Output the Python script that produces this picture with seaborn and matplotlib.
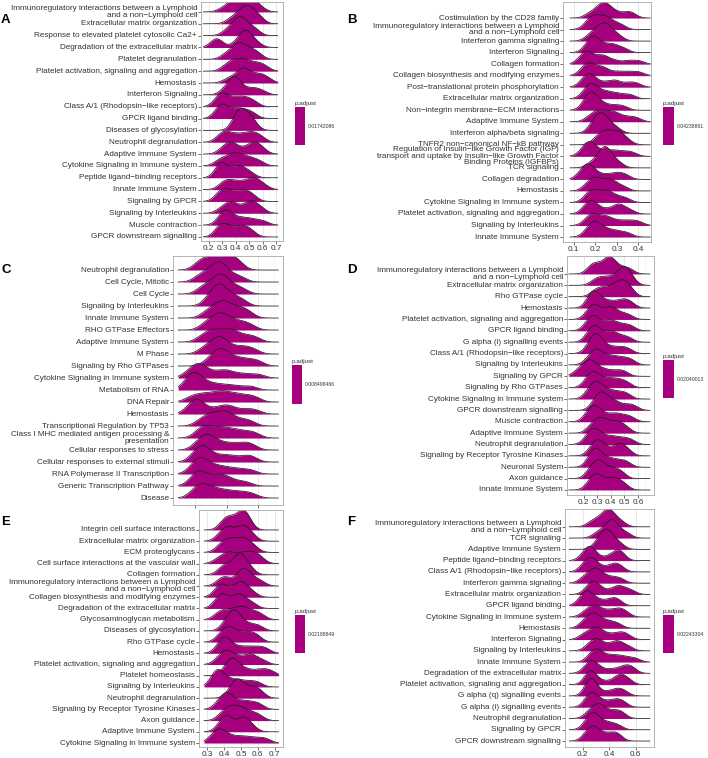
import numpy as np
import matplotlib
matplotlib.use("Agg")
import matplotlib.pyplot as plt
import matplotlib.transforms as mtransforms
from matplotlib.colors import ListedColormap, Normalize
import seaborn as sns

sns.set_theme(style="white")
plt.rcParams["font.family"] = ["Liberation Sans", "DejaVu Sans"]

FILL = "#A6007F"
LINE = "#1a1a1a"
TXT = "#333333"
W, H = 708, 758

IMMUNO = "Immunoregulatory interactions between a Lymphoid\nand a non−Lymphoid cell"

# ---------------------------------------------------------------------------
# Panel A
# ---------------------------------------------------------------------------
A_terms = [IMMUNO, "Extracellular matrix organization",
           "Response to elevated platelet cytosolic Ca2+",
           "Degradation of the extracellular matrix", "Platelet degranulation",
           "Platelet activation, signaling and aggregation", "Hemostasis",
           "Interferon Signaling", "Class A/1 (Rhodopsin−like receptors)",
           "GPCR ligand binding", "Diseases of glycosylation", "Neutrophil degranulation",
           "Adaptive Immune System", "Cytokine Signaling in Immune system",
           "Peptide ligand−binding receptors", "Innate Immune System", "Signaling by GPCR",
           "Signaling by Interleukins", "Muscle contraction", "GPCR downstream signalling"]
A_values = [
    [0.30, 0.35, 0.38, 0.39, 0.40, 0.41, 0.43, 0.47, 0.51, 0.52, 0.53, 0.55, 0.59],
    [0.36, 0.40, 0.43, 0.45, 0.47, 0.48, 0.49, 0.51, 0.53, 0.56, 0.58],
    [0.33, 0.37, 0.40, 0.42, 0.43, 0.44, 0.46, 0.48, 0.52, 0.55],
    [0.24, 0.26, 0.28, 0.40, 0.44, 0.46, 0.47, 0.48, 0.49, 0.52, 0.56],
    [0.32, 0.36, 0.39, 0.41, 0.43, 0.44, 0.46, 0.48, 0.51, 0.54, 0.57],
    [0.32, 0.36, 0.38, 0.41, 0.43, 0.46, 0.48, 0.51, 0.55, 0.58, 0.62],
    [0.34, 0.39, 0.43, 0.45, 0.46, 0.47, 0.50, 0.54, 0.57, 0.60, 0.64],
    [0.31, 0.35, 0.37, 0.38, 0.39, 0.40, 0.41, 0.43, 0.47, 0.52, 0.55, 0.60],
    [0.26, 0.28, 0.30, 0.31, 0.34, 0.38, 0.41, 0.44, 0.47, 0.50, 0.54],
    [0.26, 0.29, 0.30, 0.31, 0.35, 0.39, 0.42, 0.45, 0.49, 0.53],
    [0.39, 0.41, 0.42, 0.43, 0.44, 0.46, 0.48, 0.50, 0.51, 0.54],
    [0.28, 0.31, 0.33, 0.37, 0.41, 0.45, 0.49, 0.52, 0.55, 0.59],
    [0.30, 0.34, 0.36, 0.38, 0.42, 0.48, 0.52, 0.54, 0.56, 0.60],
    [0.27, 0.31, 0.35, 0.38, 0.40, 0.42, 0.46, 0.49, 0.53, 0.58],
    [0.27, 0.29, 0.30, 0.31, 0.37, 0.41, 0.43, 0.46, 0.51],
    [0.30, 0.33, 0.36, 0.40, 0.44, 0.48, 0.52, 0.54, 0.56, 0.61],
    [0.27, 0.30, 0.32, 0.35, 0.39, 0.43, 0.46, 0.49, 0.53],
    [0.29, 0.34, 0.36, 0.38, 0.42, 0.48, 0.50, 0.52, 0.55, 0.59],
    [0.28, 0.31, 0.32, 0.33, 0.35, 0.38, 0.42, 0.46, 0.50, 0.55, 0.61],
    [0.27, 0.29, 0.31, 0.34, 0.38, 0.42, 0.45, 0.48, 0.52],
]
A_range = (0.16, 0.712)
A_xlim = (0.144, 0.719)
A_ticks = [0.2, 0.3, 0.4, 0.5, 0.6, 0.7]
A_padj = "0.01742086"

# ---------------------------------------------------------------------------
# Panel B
# ---------------------------------------------------------------------------
B_terms = ["Costimulation by the CD28 family", IMMUNO, "Interferon gamma signaling",
           "Interferon Signaling", "Collagen formation",
           "Collagen biosynthesis and modifying enzymes",
           "Post−translational protein phosphorylation", "Extracellular matrix organization",
           "Non−integrin membrane−ECM interactions", "Adaptive Immune System",
           "Interferon alpha/beta signaling", "TNFR2 non−canonical NF−kB pathway",
           "Regulation of Insulin−like Growth Factor (IGF)\ntransport and uptake by "
           "Insulin−like Growth Factor\nBinding Proteins (IGFBPs)",
           "TCR signaling", "Collagen degradation", "Hemostasis",
           "Cytokine Signaling in Immune system",
           "Platelet activation, signaling and aggregation", "Signaling by Interleukins",
           "Innate Immune System"]
B_values = [
    [0.17, 0.20, 0.22, 0.23, 0.24, 0.25, 0.26, 0.28, 0.31, 0.35, 0.37],
    [0.16, 0.18, 0.19, 0.20, 0.22, 0.24, 0.25, 0.26, 0.29, 0.32],
    [0.17, 0.20, 0.21, 0.23, 0.24, 0.25, 0.26, 0.28, 0.31],
    [0.16, 0.18, 0.19, 0.20, 0.21, 0.24, 0.27, 0.29, 0.33],
    [0.13, 0.15, 0.16, 0.17, 0.18, 0.22, 0.23, 0.25, 0.29, 0.35, 0.40],
    [0.14, 0.16, 0.17, 0.18, 0.21, 0.23, 0.25, 0.30, 0.35, 0.40],
    [0.14, 0.16, 0.17, 0.18, 0.20, 0.24, 0.28, 0.30, 0.35, 0.39],
    [0.15, 0.17, 0.18, 0.19, 0.21, 0.24, 0.27, 0.31, 0.36],
    [0.15, 0.165, 0.175, 0.18, 0.19, 0.20, 0.22, 0.25, 0.29, 0.33],
    [0.17, 0.20, 0.21, 0.23, 0.25, 0.27, 0.29, 0.31, 0.35, 0.39],
    [0.18, 0.20, 0.21, 0.22, 0.23, 0.24, 0.25, 0.27, 0.30],
    [0.20, 0.22, 0.24, 0.25, 0.26, 0.28, 0.30, 0.31, 0.32, 0.35],
    [0.14, 0.16, 0.17, 0.18, 0.19, 0.22, 0.26, 0.29, 0.33, 0.37],
    [0.18, 0.21, 0.23, 0.24, 0.245, 0.25, 0.26, 0.28, 0.31],
    [0.13, 0.15, 0.16, 0.17, 0.18, 0.20, 0.24, 0.28, 0.31, 0.34],
    [0.16, 0.18, 0.20, 0.21, 0.23, 0.26, 0.27, 0.29, 0.33],
    [0.16, 0.18, 0.19, 0.21, 0.24, 0.25, 0.27, 0.30, 0.34],
    [0.15, 0.17, 0.18, 0.19, 0.21, 0.25, 0.29, 0.31, 0.32, 0.36],
    [0.16, 0.18, 0.19, 0.21, 0.24, 0.25, 0.28, 0.32, 0.36, 0.40],
    [0.16, 0.18, 0.19, 0.20, 0.21, 0.23, 0.25, 0.28, 0.31, 0.35],
]
B_range = (0.082, 0.455)
B_xlim = (0.064, 0.458)
B_ticks = [0.1, 0.2, 0.3, 0.4]
B_padj = "0.04238861"

# ---------------------------------------------------------------------------
# Panel C
# ---------------------------------------------------------------------------
C_terms = ["Neutrophil degranulation", "Cell Cycle, Mitotic", "Cell Cycle",
           "Signaling by Interleukins", "Innate Immune System", "RHO GTPase Effectors",
           "Adaptive Immune System", "M Phase", "Signaling by Rho GTPases",
           "Cytokine Signaling in Immune system", "Metabolism of RNA", "DNA Repair",
           "Hemostasis", "Transcriptional Regulation by TP53",
           "Class I MHC mediated antigen processing &\npresentation",
           "Cellular responses to stress", "Cellular responses to external stimuli",
           "RNA Polymerase II Transcription", "Generic Transcription Pathway", "Disease"]
C_values = [
    [0.22, 0.25, 0.28, 0.31, 0.34, 0.37, 0.40, 0.43, 0.45, 0.48],
    [0.22, 0.26, 0.29, 0.32, 0.34, 0.35, 0.36, 0.37, 0.40, 0.44, 0.49],
    [0.24, 0.28, 0.31, 0.34, 0.36, 0.37, 0.38, 0.41, 0.45, 0.50],
    [0.28, 0.31, 0.33, 0.35, 0.36, 0.37, 0.39, 0.42, 0.46, 0.50],
    [0.27, 0.31, 0.34, 0.37, 0.38, 0.40, 0.43, 0.47, 0.50, 0.54],
    [0.26, 0.30, 0.33, 0.35, 0.37, 0.39, 0.42, 0.46, 0.50, 0.55],
    [0.24, 0.28, 0.31, 0.33, 0.36, 0.40, 0.42, 0.44, 0.48, 0.53, 0.58],
    [0.25, 0.29, 0.32, 0.34, 0.36, 0.37, 0.39, 0.43, 0.48, 0.52, 0.57],
    [0.28, 0.32, 0.34, 0.36, 0.37, 0.39, 0.42, 0.46, 0.50, 0.55, 0.60],
    [0.15, 0.19, 0.21, 0.23, 0.24, 0.27, 0.32, 0.37, 0.40, 0.45, 0.52, 0.60],
    [0.14, 0.17, 0.19, 0.20, 0.21, 0.24, 0.28, 0.33, 0.39, 0.46, 0.55],
    [0.17, 0.22, 0.26, 0.30, 0.34, 0.37, 0.40, 0.44, 0.48, 0.53, 0.58],
    [0.16, 0.19, 0.21, 0.22, 0.23, 0.28, 0.34, 0.38, 0.41, 0.45, 0.52, 0.58],
    [0.23, 0.27, 0.30, 0.32, 0.35, 0.38, 0.40, 0.41, 0.45, 0.50, 0.55],
    [0.22, 0.25, 0.27, 0.30, 0.34, 0.37, 0.40, 0.44, 0.48, 0.53, 0.58],
    [0.21, 0.24, 0.27, 0.28, 0.30, 0.33, 0.37, 0.42, 0.47, 0.52, 0.56],
    [0.19, 0.22, 0.24, 0.25, 0.27, 0.30, 0.35, 0.40, 0.45, 0.52, 0.56],
    [0.18, 0.21, 0.23, 0.24, 0.26, 0.29, 0.33, 0.37, 0.42, 0.48, 0.55],
    [0.18, 0.21, 0.23, 0.24, 0.27, 0.31, 0.35, 0.37, 0.40, 0.45, 0.52],
    [0.19, 0.22, 0.24, 0.26, 0.29, 0.32, 0.36, 0.40, 0.45, 0.50, 0.56],
]
C_range = (0.095, 0.726)
C_xlim = (0.063, 0.754)
C_ticks = [0.2, 0.4, 0.6]
C_padj = "0.008498466"

# ---------------------------------------------------------------------------
# Panel D
# ---------------------------------------------------------------------------
D_terms = [IMMUNO, "Extracellular matrix organization", "Rho GTPase cycle", "Hemostasis",
           "Platelet activation, signaling and aggregation", "GPCR ligand binding",
           "G alpha (i) signalling events", "Class A/1 (Rhodopsin−like receptors)",
           "Signaling by Interleukins", "Signaling by GPCR", "Signaling by Rho GTPases",
           "Cytokine Signaling in Immune system", "GPCR downstream signalling",
           "Muscle contraction", "Adaptive Immune System", "Neutrophil degranulation",
           "Signaling by Receptor Tyrosine Kinases", "Neuronal System", "Axon guidance",
           "Innate Immune System"]
D_values = [
    [0.25, 0.27, 0.29, 0.33, 0.36, 0.38, 0.39, 0.40, 0.42, 0.45, 0.50, 0.54],
    [0.28, 0.32, 0.36, 0.40, 0.44, 0.47, 0.49, 0.50, 0.51, 0.53, 0.56],
    [0.28, 0.32, 0.36, 0.40, 0.43, 0.46, 0.48, 0.50, 0.52, 0.55],
    [0.24, 0.26, 0.27, 0.28, 0.30, 0.34, 0.38, 0.43, 0.48, 0.51, 0.55],
    [0.23, 0.26, 0.28, 0.29, 0.33, 0.38, 0.40, 0.42, 0.47, 0.53],
    [0.22, 0.25, 0.27, 0.28, 0.30, 0.35, 0.39, 0.41, 0.45, 0.50, 0.55],
    [0.23, 0.26, 0.28, 0.29, 0.31, 0.36, 0.40, 0.42, 0.47, 0.53],
    [0.23, 0.26, 0.28, 0.29, 0.30, 0.31, 0.34, 0.38, 0.43, 0.48, 0.53],
    [0.23, 0.27, 0.29, 0.30, 0.33, 0.37, 0.41, 0.45, 0.50, 0.55],
    [0.15, 0.19, 0.22, 0.24, 0.25, 0.27, 0.30, 0.34, 0.39, 0.45, 0.50],
    [0.22, 0.25, 0.27, 0.28, 0.31, 0.35, 0.39, 0.43, 0.47, 0.52],
    [0.23, 0.26, 0.28, 0.30, 0.31, 0.34, 0.38, 0.42, 0.47, 0.52],
    [0.27, 0.30, 0.32, 0.33, 0.34, 0.36, 0.40, 0.42, 0.46, 0.52, 0.57],
    [0.22, 0.25, 0.27, 0.28, 0.30, 0.33, 0.37, 0.42, 0.45, 0.50, 0.55],
    [0.25, 0.28, 0.31, 0.33, 0.35, 0.38, 0.42, 0.45, 0.47, 0.52],
    [0.22, 0.25, 0.27, 0.28, 0.30, 0.33, 0.37, 0.41, 0.45, 0.50, 0.55],
    [0.25, 0.28, 0.30, 0.31, 0.33, 0.36, 0.41, 0.45, 0.47, 0.49, 0.53],
    [0.24, 0.27, 0.28, 0.29, 0.31, 0.34, 0.38, 0.42, 0.47, 0.52],
    [0.24, 0.27, 0.30, 0.31, 0.33, 0.36, 0.40, 0.44, 0.48],
    [0.24, 0.27, 0.29, 0.30, 0.33, 0.37, 0.40, 0.43, 0.46, 0.50],
]
D_range = (0.09, 0.69)
D_xlim = (0.077, 0.719)
D_ticks = [0.2, 0.3, 0.4, 0.5, 0.6]
D_padj = "0.02040013"

# ---------------------------------------------------------------------------
# Panel E
# ---------------------------------------------------------------------------
E_terms = ["Integrin cell surface interactions", "Extracellular matrix organization",
           "ECM proteoglycans", "Cell surface interactions at the vascular wall",
           "Collagen formation", IMMUNO, "Collagen biosynthesis and modifying enzymes",
           "Degradation of the extracellular matrix", "Glycosaminoglycan metabolism",
           "Diseases of glycosylation", "Rho GTPase cycle", "Hemostasis",
           "Platelet activation, signaling and aggregation", "Platelet homeostasis",
           "Signaling by Interleukins", "Neutrophil degranulation",
           "Signaling by Receptor Tyrosine Kinases", "Axon guidance",
           "Adaptive Immune System", "Cytokine Signaling in Immune system"]
E_values = [
    [0.39, 0.41, 0.43, 0.45, 0.48, 0.50, 0.51, 0.52, 0.53, 0.55],
    [0.37, 0.40, 0.42, 0.43, 0.46, 0.49, 0.51, 0.52, 0.54, 0.57],
    [0.37, 0.40, 0.42, 0.44, 0.46, 0.49, 0.51, 0.52, 0.55, 0.58],
    [0.36, 0.40, 0.42, 0.44, 0.47, 0.50, 0.52, 0.55, 0.57, 0.59, 0.62],
    [0.38, 0.41, 0.43, 0.47, 0.48, 0.49, 0.50, 0.51, 0.53, 0.56],
    [0.37, 0.40, 0.42, 0.47, 0.50, 0.51, 0.52, 0.53, 0.55, 0.58, 0.62],
    [0.35, 0.38, 0.39, 0.41, 0.46, 0.48, 0.50, 0.51, 0.53, 0.57],
    [0.35, 0.38, 0.39, 0.40, 0.44, 0.47, 0.49, 0.50, 0.53, 0.57],
    [0.36, 0.39, 0.42, 0.45, 0.48, 0.50, 0.52, 0.55, 0.58, 0.62],
    [0.40, 0.42, 0.44, 0.45, 0.46, 0.47, 0.48, 0.50, 0.53, 0.57, 0.61],
    [0.37, 0.40, 0.42, 0.43, 0.45, 0.48, 0.51, 0.54, 0.57, 0.60],
    [0.36, 0.39, 0.40, 0.41, 0.42, 0.45, 0.49, 0.53, 0.57, 0.61, 0.65],
    [0.36, 0.39, 0.41, 0.42, 0.44, 0.47, 0.50, 0.54, 0.56, 0.58, 0.63],
    [0.40, 0.43, 0.44, 0.45, 0.46, 0.48, 0.51, 0.55, 0.60, 0.64, 0.68],
    [0.33, 0.35, 0.36, 0.37, 0.39, 0.42, 0.46, 0.50, 0.55, 0.60],
    [0.43, 0.46, 0.47, 0.48, 0.49, 0.51, 0.54, 0.57, 0.59, 0.62],
    [0.36, 0.39, 0.41, 0.42, 0.43, 0.46, 0.50, 0.53, 0.57, 0.61],
    [0.38, 0.41, 0.43, 0.45, 0.47, 0.49, 0.51, 0.54, 0.57, 0.61],
    [0.37, 0.40, 0.41, 0.42, 0.44, 0.48, 0.51, 0.52, 0.53, 0.57],
    [0.32, 0.35, 0.37, 0.38, 0.40, 0.43, 0.47, 0.51, 0.55, 0.60, 0.65],
]
E_range = (0.28, 0.724)
E_xlim = (0.254, 0.73)
E_ticks = [0.3, 0.4, 0.5, 0.6, 0.7]
E_padj = "0.02188849"

# ---------------------------------------------------------------------------
# Panel F
# ---------------------------------------------------------------------------
F_terms = [IMMUNO, "TCR signaling", "Adaptive Immune System",
           "Peptide ligand−binding receptors", "Class A/1 (Rhodopsin−like receptors)",
           "Interferon gamma signaling", "Extracellular matrix organization",
           "GPCR ligand binding", "Cytokine Signaling in Immune system", "Hemostasis",
           "Interferon Signaling", "Signaling by Interleukins", "Innate Immune System",
           "Degradation of the extracellular matrix",
           "Platelet activation, signaling and aggregation",
           "G alpha (q) signalling events", "G alpha (i) signalling events",
           "Neutrophil degranulation", "Signaling by GPCR", "GPCR downstream signalling"]
F_values = [
    [0.26, 0.30, 0.33, 0.36, 0.38, 0.39, 0.40, 0.41, 0.43, 0.46, 0.50],
    [0.30, 0.34, 0.37, 0.40, 0.41, 0.42, 0.43, 0.44, 0.46, 0.50, 0.54],
    [0.30, 0.33, 0.35, 0.37, 0.38, 0.39, 0.40, 0.42, 0.45, 0.49],
    [0.20, 0.23, 0.25, 0.26, 0.27, 0.30, 0.38, 0.44, 0.46, 0.48, 0.50],
    [0.20, 0.23, 0.25, 0.27, 0.28, 0.31, 0.37, 0.43, 0.45, 0.49],
    [0.20, 0.24, 0.27, 0.29, 0.30, 0.32, 0.35, 0.39, 0.44, 0.49],
    [0.23, 0.26, 0.28, 0.29, 0.31, 0.35, 0.42, 0.46, 0.48, 0.52, 0.57],
    [0.18, 0.21, 0.23, 0.24, 0.26, 0.29, 0.34, 0.40, 0.44, 0.47],
    [0.21, 0.25, 0.28, 0.29, 0.31, 0.35, 0.39, 0.43, 0.47, 0.49, 0.53],
    [0.20, 0.23, 0.26, 0.28, 0.29, 0.31, 0.34, 0.38, 0.42, 0.47],
    [0.20, 0.24, 0.27, 0.30, 0.31, 0.33, 0.37, 0.42, 0.47, 0.50, 0.54],
    [0.24, 0.27, 0.30, 0.31, 0.33, 0.37, 0.42, 0.45, 0.47, 0.50, 0.55],
    [0.25, 0.28, 0.30, 0.31, 0.33, 0.37, 0.41, 0.45, 0.49, 0.54, 0.60],
    [0.22, 0.25, 0.27, 0.28, 0.30, 0.35, 0.42, 0.48, 0.52, 0.55, 0.58],
    [0.23, 0.25, 0.26, 0.27, 0.29, 0.35, 0.43, 0.47, 0.49, 0.51, 0.55],
    [0.23, 0.25, 0.26, 0.265, 0.27, 0.29, 0.33, 0.40, 0.45, 0.48, 0.52],
    [0.23, 0.25, 0.27, 0.28, 0.30, 0.34, 0.39, 0.44, 0.47, 0.51],
    [0.24, 0.27, 0.30, 0.32, 0.33, 0.35, 0.39, 0.43, 0.47, 0.50],
    [0.22, 0.25, 0.27, 0.28, 0.29, 0.31, 0.34, 0.38, 0.42, 0.47],
    [0.22, 0.25, 0.27, 0.28, 0.30, 0.33, 0.37, 0.41, 0.45, 0.47],
]
F_range = (0.10, 0.707)
F_xlim = (0.068, 0.738)
F_ticks = [0.2, 0.4, 0.6]
F_padj = "0.02243304"

# ---------------------------------------------------------------------------
# Layout (pixel boxes in the 708x758 canvas)
# ---------------------------------------------------------------------------
panels = [
    dict(letter="A", terms=A_terms, values=A_values, rng=A_range, xlim=A_xlim,
         ticks=A_ticks, padj=A_padj, bw=0.042, scale=1.85, box=(201, 2, 283, 241),
         ylim=(0.66, 20.84), cbar=(295, 107, 305, 145), let_xy=(1, 20), ticklabels=True),
    dict(letter="B", terms=B_terms, values=B_values, rng=B_range, xlim=B_xlim,
         ticks=B_ticks, padj=B_padj, bw=0.026, scale=1.85, box=(563, 2, 651, 242),
         ylim=(0.57, 21.39), cbar=(663, 107, 674, 145), let_xy=(347, 20), ticklabels=True),
    dict(letter="C", terms=C_terms, values=C_values, rng=C_range, xlim=C_xlim,
         ticks=C_ticks, padj=C_padj, bw=0.042, scale=1.85, box=(173, 256, 283, 505),
         ylim=(0.42, 21.17), cbar=(292, 365, 302, 404), let_xy=(1, 270), ticklabels=False),
    dict(letter="D", terms=D_terms, values=D_values, rng=D_range, xlim=D_xlim,
         ticks=D_ticks, padj=D_padj, bw=0.04, scale=1.75, box=(567, 256, 654, 495),
         ylim=(0.56, 21.58), cbar=(663, 360, 674, 398), let_xy=(347, 270), ticklabels=True),
    dict(letter="E", terms=E_terms, values=E_values, rng=E_range, xlim=E_xlim,
         ticks=E_ticks, padj=E_padj, bw=0.033, scale=1.9, box=(199, 510, 283, 747),
         ylim=(0.645, 21.78), cbar=(295, 615, 305, 653), let_xy=(1, 522), ticklabels=True),
    dict(letter="F", terms=F_terms, values=F_values, rng=F_range, xlim=F_xlim,
         ticks=F_ticks, padj=F_padj, bw=0.04, scale=1.8, box=(565, 509, 654, 747),
         ylim=(0.47, 21.58), cbar=(663, 615, 674, 653), let_xy=(347, 522), ticklabels=True),
]


def fig_rect(x0, y0, x1, y1):
    return [x0 / W, 1 - y1 / H, (x1 - x0) / W, (y1 - y0) / H]


def draw_panel(fig, p):
    ax = fig.add_axes(fig_rect(*p["box"]))
    ax.set_facecolor("white")
    terms, values, rng = p["terms"], p["values"], p["rng"]
    n = len(terms)
    bases = np.arange(n, 0, -1)
    drawn = []
    # top ridge first, so lower ridges overlap the ones above (as ggridges does)
    for k, vals in enumerate(values):
        bw = p["bw"] / np.std(vals, ddof=1)
        z = 2 + k * 0.02
        sns.kdeplot(x=vals, ax=ax, fill=True, color=FILL, alpha=1, linewidth=0,
                    bw_method=bw, cut=10, clip=rng, zorder=z)
        f_art = ax.collections[-1]
        sns.kdeplot(x=vals, ax=ax, color=LINE, linewidth=0.55,
                    bw_method=bw, cut=10, clip=rng, zorder=z + 0.01)
        l_art = ax.lines[-1]
        drawn.append((bases[k], f_art, l_art))
    # shared height scaling, then lift each density onto its baseline
    peak = max(l.get_ydata().max() for _, _, l in drawn)
    s = p["scale"] / peak
    for base, f_art, l_art in drawn:
        tr = mtransforms.Affine2D().scale(1, s).translate(0, base) + ax.transData
        f_art.set_transform(tr)
        l_art.set_transform(tr)

    ax.set_xlim(*p["xlim"])
    ax.set_ylim(*p["ylim"])
    ticks = p["ticks"]
    step = ticks[1] - ticks[0]
    minor = [t + step / 2 for t in [ticks[0] - step] + ticks]
    ax.set_xticks(ticks)
    ax.set_xticks(minor, minor=True)
    ax.set_xticklabels([f"{t:g}" for t in ticks] if p["ticklabels"] else [])
    ax.set_yticks(bases)
    ax.set_yticklabels(terms, va="center", linespacing=0.9)
    ax.grid(which="major", axis="x", color="#E3E3E3", lw=0.6)
    ax.grid(which="minor", axis="x", color="#F0F0F0", lw=0.4)
    ax.set_axisbelow(True)
    ax.set_xlabel("")
    ax.set_ylabel("")
    ax.tick_params(axis="both", which="major", length=2, width=0.5, color=TXT,
                   labelcolor=TXT, labelsize=5.85, pad=0.8, left=True, bottom=True)
    ax.tick_params(axis="x", which="minor", length=0)
    for sp in ax.spines.values():
        sp.set_color("#A8A8A8")
        sp.set_linewidth(0.6)
        sp.set_zorder(3)

    # single-colour p.adjust legend
    cax = fig.add_axes(fig_rect(*p["cbar"]))
    v = float(p["padj"])
    sm = plt.cm.ScalarMappable(cmap=ListedColormap([FILL]), norm=Normalize(v * 0.5, v * 1.5))
    cb = fig.colorbar(sm, cax=cax, ticks=[v])
    cb.outline.set_visible(False)
    cb.ax.set_yticklabels([p["padj"]])
    cb.ax.tick_params(direction="in", length=1.6, width=0.4, color="white",
                      labelsize=3.7, labelcolor=TXT, pad=2, left=True, right=True)
    cax.set_title("p.adjust", loc="left", fontsize=4.5, pad=1.5, color=TXT)

    fig.text(p["let_xy"][0] / W, 1 - p["let_xy"][1] / H, p["letter"], fontsize=9.5,
             fontweight="bold", ha="left", va="center", color="black")


fig = plt.figure(figsize=(W / 100, H / 100), dpi=100, facecolor="white")
for p in panels:
    draw_panel(fig, p)
fig.savefig("out.png", dpi=100, facecolor="white")
